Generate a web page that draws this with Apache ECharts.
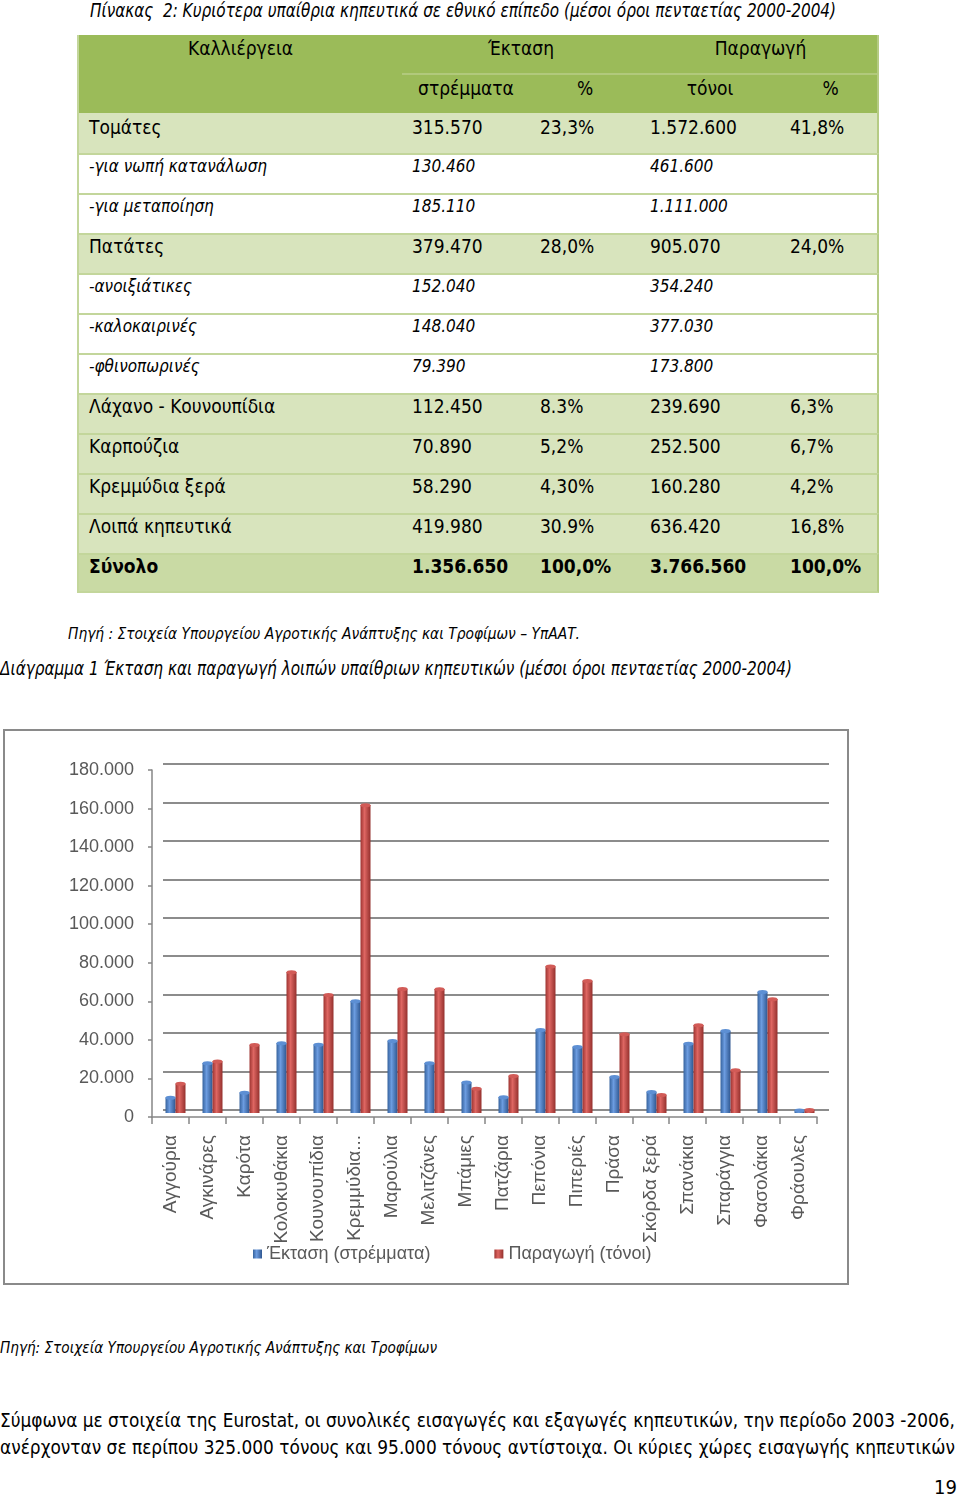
<!DOCTYPE html>
<html>
<head>
<meta charset="utf-8">
<script src="https://cdn.jsdelivr.net/npm/echarts@6/dist/echarts.min.js"></script>
<style>
  html,body{margin:0;padding:0;background:#fff;}
  body{width:960px;height:1498px;position:relative;overflow:hidden;color:#000;}
  .abs{position:absolute;white-space:nowrap;}
  .cap{font-family:"Liberation Sans Narrow","DejaVu Sans Condensed",sans-serif;font-style:italic;transform-origin:0 50%;}
  .body{font-family:"DejaVu Sans Condensed","DejaVu Sans",sans-serif;transform-origin:0 50%;}
  #table{position:absolute;left:77px;top:35px;width:802px;}
  .row{position:absolute;left:0;width:802px;box-sizing:border-box;border-left:2px solid #c3d69b;border-right:2px solid #b5cb84;}
  .cell{position:absolute;top:0;white-space:nowrap;font-family:"DejaVu Sans Condensed","DejaVu Sans",sans-serif;}
  .hcell{position:absolute;white-space:nowrap;font-family:"Liberation Sans Narrow","DejaVu Sans Condensed",sans-serif;font-size:19px;text-align:center;}
  #frame{position:absolute;left:3px;top:729px;width:842px;height:552px;border:2px solid #8a8a8a;}
  #chart{position:absolute;left:0;top:700px;width:960px;height:620px;}
</style>
</head>
<body>
<div class="abs cap fit" data-w="746" style="left:90px;top:-2px;font-size:19px;line-height:24px;">Πίνακας&nbsp; 2: Κυριότερα υπαίθρια κηπευτικά σε εθνικό επίπεδο (μέσοι όροι πενταετίας 2000-2004)</div>

<div id="table"></div>

<div class="abs cap fit" data-w="512" style="left:68px;top:623px;font-size:16px;line-height:22px;">Πηγή : Στοιχεία Υπουργείου Αγροτικής Ανάπτυξης και Τροφίμων – ΥπΑΑΤ.</div>
<div class="abs cap fit" data-w="792" style="left:0px;top:656px;font-size:19px;line-height:24px;">Διάγραμμα 1 Έκταση και παραγωγή λοιπών υπαίθριων κηπευτικών (μέσοι όροι πενταετίας 2000-2004)</div>

<div id="frame"></div>
<div id="chart"></div>

<div class="abs cap fit" data-w="437" style="left:0px;top:1337px;font-size:16px;line-height:22px;">Πηγή: Στοιχεία Υπουργείου Αγροτικής Ανάπτυξης και Τροφίμων</div>
<div class="abs body fit" data-w="955" style="left:0px;top:1407px;font-size:20px;line-height:26px;">Σύμφωνα με στοιχεία της Eurostat, οι συνολικές εισαγωγές και εξαγωγές κηπευτικών, την περίοδο 2003 -2006,</div>
<div class="abs body fit" data-w="955" style="left:0px;top:1434px;font-size:20px;line-height:26px;">ανέρχονταν σε περίπου 325.000 τόνους και 95.000 τόνους αντίστοιχα. Οι κύριες χώρες εισαγωγής κηπευτικών</div>
<div class="abs body" style="left:934px;top:1474px;font-size:20px;line-height:26px;">19</div>

<script>
// ---- Table data ----
const tableNames   = ['Τομάτες','-για νωπή κατανάλωση','-για μεταποίηση','Πατάτες','-ανοιξιάτικες','-καλοκαιρινές','-φθινοπωρινές','Λάχανο - Κουνουπίδια','Καρπούζια','Κρεμμύδια ξερά','Λοιπά κηπευτικά','Σύνολο'];
const tableArea    = ['315.570','130.460','185.110','379.470','152.040','148.040','79.390','112.450','70.890','58.290','419.980','1.356.650'];
const tableAreaPct = ['23,3%','','','28,0%','','','','8.3%','5,2%','4,30%','30.9%','100,0%'];
const tableProd    = ['1.572.600','461.600','1.111.000','905.070','354.240','377.030','173.800','239.690','252.500','160.280','636.420','3.766.560'];
const tableProdPct = ['41,8%','','','24,0%','','','','6,3%','6,7%','4,2%','16,8%','100,0%'];
const tableKind    = ['main','sub','sub','main','sub','sub','sub','main','main','main','main','total'];
const headerTop    = ['Καλλιέργεια','Έκταση','Παραγωγή'];
const headerSub    = ['στρέμματα','%','τόνοι','%'];

// ---- Chart data ----
const categories = ['Αγγούρια','Αγκινάρες','Καρότα','Κολοκυθάκια','Κουνουπίδια','Κρεμμύδια...','Μαρούλια','Μελιτζάνες','Μπάμιες','Πατζάρια','Πεπόνια','Πιπεριές','Πράσα','Σκόρδα ξερά','Σπανάκια','Σπαράγγια','Φασολάκια','Φράουλες'];
const areaValues = [8100, 26000, 10700, 36400, 35700, 58290, 37600, 26000, 16000, 8300, 43300, 34500, 18900, 11100, 36200, 42800, 63100, 1400];
const prodValues = [15300, 26900, 35500, 73300, 61500, 160280, 64600, 64500, 12700, 19400, 76300, 68800, 41100, 9500, 45800, 22400, 59300, 1700];
const yTicks = {min: 0, max: 180000, interval: 20000};
const seriesNames = ['Έκταση (στρέμματα)', 'Παραγωγή (τόνοι)'];

// ---- Build table ----
(function(){
  const t = document.getElementById('table');
  const colL = [0, 323, 451, 561, 701, 802]; // relative to table left (77)
  const h1 = document.createElement('div');
  h1.className='row'; h1.style.top='0px'; h1.style.height='38px'; h1.style.background='#9bbb59';
  t.appendChild(h1);
  const h1spans = [[0,323],[323,561],[561,802]];
  headerTop.forEach((txt,i)=>{
    const c=document.createElement('div'); c.className='hcell';
    c.style.left=h1spans[i][0]+'px'; c.style.width=(h1spans[i][1]-h1spans[i][0])+'px';
    c.style.top='1px'; c.style.lineHeight='24px'; c.textContent=txt; h1.appendChild(c);
  });
  const h2 = document.createElement('div');
  h2.className='row'; h2.style.top='38px'; h2.style.height='40px'; h2.style.background='#9bbb59';
  t.appendChild(h2);
  const line = document.createElement('div');
  line.style.cssText='position:absolute;left:323px;right:0;top:0;height:2px;background:#b1c97c;';
  h2.appendChild(line);
  headerSub.forEach((txt,i)=>{
    const c=document.createElement('div'); c.className='hcell';
    c.style.left=colL[i+1]+'px'; c.style.width=(colL[i+2]-colL[i+1])+'px';
    c.style.top='3px'; c.style.lineHeight='24px'; c.textContent=txt; h2.appendChild(c);
  });
  tableNames.forEach((name,r)=>{
    const kind = tableKind[r];
    const row=document.createElement('div'); row.className='row';
    row.style.top=(78+r*40)+'px'; row.style.height='40px';
    row.style.background = kind==='main' ? '#d8e4bd' : (kind==='total' ? '#c9daa4' : '#ffffff');
    if(r>0) row.style.borderTop='2px solid #c3d69b';
    if(r===tableNames.length-1) row.style.borderBottom='2px solid #c3d69b';
    t.appendChild(row);
    const vals=[name, tableArea[r], tableAreaPct[r], tableProd[r], tableProdPct[r]];
    vals.forEach((v,i)=>{
      if(!v) return;
      const c=document.createElement('div'); c.className='cell';
      c.style.left=(colL[i]+10)+'px';
      if(kind==='sub'){ c.style.fontStyle='italic'; c.style.fontSize='17px'; c.style.lineHeight='22px'; c.style.top='0px'; }
      else if(kind==='total'){ c.style.fontWeight='bold'; c.style.fontSize='19px'; c.style.lineHeight='24px'; c.style.top='-1px'; }
      else { c.style.fontSize='19px'; c.style.lineHeight='24px'; c.style.top= (r>0?-1:2)+'px'; }
      c.textContent=v; row.appendChild(c);
    });
  });
})();

// ---- Fit captions to reference widths ----
document.querySelectorAll('.fit').forEach(el=>{
  el.style.display='inline-block';
  const w=el.getBoundingClientRect().width;
  const target=+el.dataset.w;
  if(w>0) el.style.transform='scaleX('+(target/w)+')';
});

// ---- Chart ----
const chart = echarts.init(document.getElementById('chart'), null, {renderer:'canvas'});
const fontFam = '"Liberation Sans", Arial, sans-serif';
const txtColor = '#595959';
const axisColor = '#868686';
function fmt(v){ return String(v).replace(/\B(?=(\d{3})+(?!\d))/g,'.'); }
function cyl(c1,c2,c3){
  return {type:'linear',x:0,y:0,x2:1,y2:0,colorStops:[{offset:0,color:c1},{offset:0.4,color:c2},{offset:1,color:c3}]};
}
const option = {
  animation:false,
  grid:[
    {left:152, right:143, top:70, height:347},
    {left:163, right:131, top:64, height:346},
    {left:157, right:137, top:67, height:346}
  ],
  legend:{
    data:seriesNames, left:253, top:545, padding:0, itemWidth:9, itemHeight:9, itemGap:64,
    icon:'rect', textStyle:{fontSize:18, color:txtColor, fontFamily:fontFam}
  },
  xAxis:[
    {gridIndex:0, type:'category', data:categories,
     axisLine:{show:true, lineStyle:{color:axisColor, width:1.5}},
     axisTick:{show:true, length:7, lineStyle:{color:axisColor, width:1.5}},
     axisLabel:{rotate:90, interval:0, margin:18, fontSize:19, color:txtColor, fontFamily:fontFam}},
    {gridIndex:1, type:'category', data:categories, show:false},
    {gridIndex:2, type:'category', data:categories, show:false}
  ],
  yAxis:[
    {gridIndex:0, type:'value', min:yTicks.min, max:yTicks.max, interval:yTicks.interval,
     axisLine:{show:true, lineStyle:{color:axisColor, width:1.5}},
     axisTick:{show:true, length:4, lineStyle:{color:axisColor, width:1.5}},
     splitLine:{show:false},
     axisLabel:{formatter:fmt, fontSize:18, color:txtColor, fontFamily:fontFam, margin:18, padding:[5,0,0,0]}},
    {gridIndex:1, type:'value', min:yTicks.min, max:yTicks.max, interval:yTicks.interval,
     axisLine:{show:false}, axisTick:{show:false}, axisLabel:{show:false},
     splitLine:{show:true, lineStyle:{color:'#8c8c8c', width:2}}},
    {gridIndex:2, type:'value', min:yTicks.min, max:yTicks.max, interval:yTicks.interval, show:false, splitLine:{show:false}}
  ],
  series:[
    {name:seriesNames[0], type:'bar', xAxisIndex:2, yAxisIndex:2, data:areaValues, barWidth:10, barGap:'0%',
     itemStyle:{color:cyl('#36639e','#6c9ce0','#2f5790')}, z:2},
    {name:seriesNames[1], type:'bar', xAxisIndex:2, yAxisIndex:2, data:prodValues, barWidth:10, barGap:'0%',
     itemStyle:{color:cyl('#9e3431','#de6662','#94302d')}, z:2},
    {name:'topA', type:'pictorialBar', xAxisIndex:2, yAxisIndex:2, data:areaValues, barWidth:10, barGap:'0%',
     symbol:'circle', symbolSize:[10,4], symbolPosition:'end', symbolOffset:[0,'-50%'],
     itemStyle:{color:'#5d8fd4', borderColor:'#2f5790', borderWidth:0.8}, z:3, silent:true},
    {name:'topP', type:'pictorialBar', xAxisIndex:2, yAxisIndex:2, data:prodValues, barWidth:10, barGap:'0%',
     symbol:'circle', symbolSize:[10,4], symbolPosition:'end', symbolOffset:[0,'-50%'],
     itemStyle:{color:'#d25b57', borderColor:'#8f2e2b', borderWidth:0.8}, z:3, silent:true}
  ]
};
chart.setOption(option);
</script>
</body>
</html>
